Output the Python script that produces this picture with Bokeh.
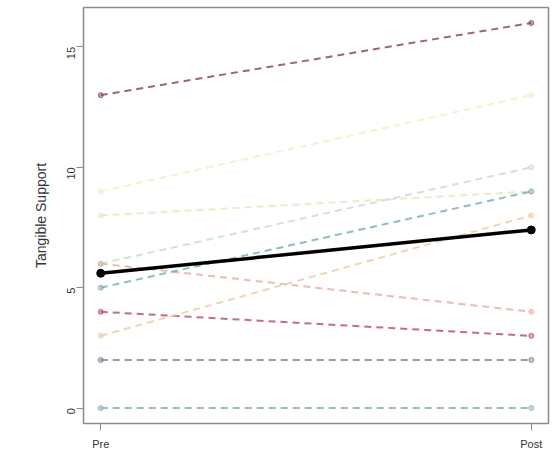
from bokeh.plotting import figure
from bokeh.models import FixedTicker, Range1d
from bokeh.embed import file_html
from bokeh.resources import INLINE

time_labels = ["Pre", "Post"]
pre_values = [13, 9, 8, 6, 6, 5, 4, 3, 2, 0]
post_values = [16, 13, 9, 10, 4, 9, 3, 8, 2, 0]
subject_colors = ["#8e4a58", "#f0eec8", "#e6e8c0", "#c4ded6", "#e8b0a4",
                  "#7eaebc", "#b85270", "#f0cca8", "#84849a", "#90aebc"]
mean_values = [sum(pre_values) / len(pre_values), sum(post_values) / len(post_values)]
y_ticks = [0, 5, 10, 15]

xs = [1, 2]

p = figure(width=553, height=456, output_backend="svg", toolbar_location=None,
           x_range=Range1d(0.96, 2.04), y_range=Range1d(-0.64, 16.64),
           min_border_left=83, min_border_right=5, min_border_top=7, min_border_bottom=33)
p.background_fill_color = "white"
p.border_fill_color = "white"
p.outline_line_color = "#8a8a8a"
p.outline_line_width = 1.5
p.grid.visible = False

for pre, post, c in zip(pre_values, post_values, subject_colors):
    p.line(xs, [pre, post], line_color=c, line_width=2, line_dash="7 5", line_alpha=0.85)
    p.scatter(xs, [pre, post], size=5, fill_color=c, line_color=c, fill_alpha=0.5, line_alpha=0.8)

p.line(xs, mean_values, line_color="black", line_width=3.5)
p.scatter(xs, mean_values, size=8, fill_color="black", line_color="black")

p.xaxis.ticker = FixedTicker(ticks=xs)
p.xaxis.major_label_overrides = {1: time_labels[0], 2: time_labels[1]}
p.yaxis.ticker = FixedTicker(ticks=y_ticks)
p.yaxis.axis_label = "Tangible Support"

for ax in (p.xaxis[0], p.yaxis[0]):
    ax.axis_line_color = None
    ax.major_tick_out = 7
    ax.major_tick_in = 0
    ax.minor_tick_line_color = None
    ax.major_tick_line_color = "#8a8a8a"
    ax.major_label_text_font = "Liberation Sans"
    ax.major_label_text_color = "#333333"
    ax.major_label_text_font_size = "11px"

p.yaxis.major_label_orientation = 1.5708
p.yaxis.axis_label_text_font = "Liberation Sans"
p.yaxis.axis_label_text_font_style = "normal"
p.yaxis.axis_label_text_font_size = "14px"
p.yaxis.axis_label_text_color = "#333333"
p.yaxis.axis_label_standoff = 12
p.xaxis.major_label_standoff = 7

open("out.html", "w").write(file_html(p, INLINE))
